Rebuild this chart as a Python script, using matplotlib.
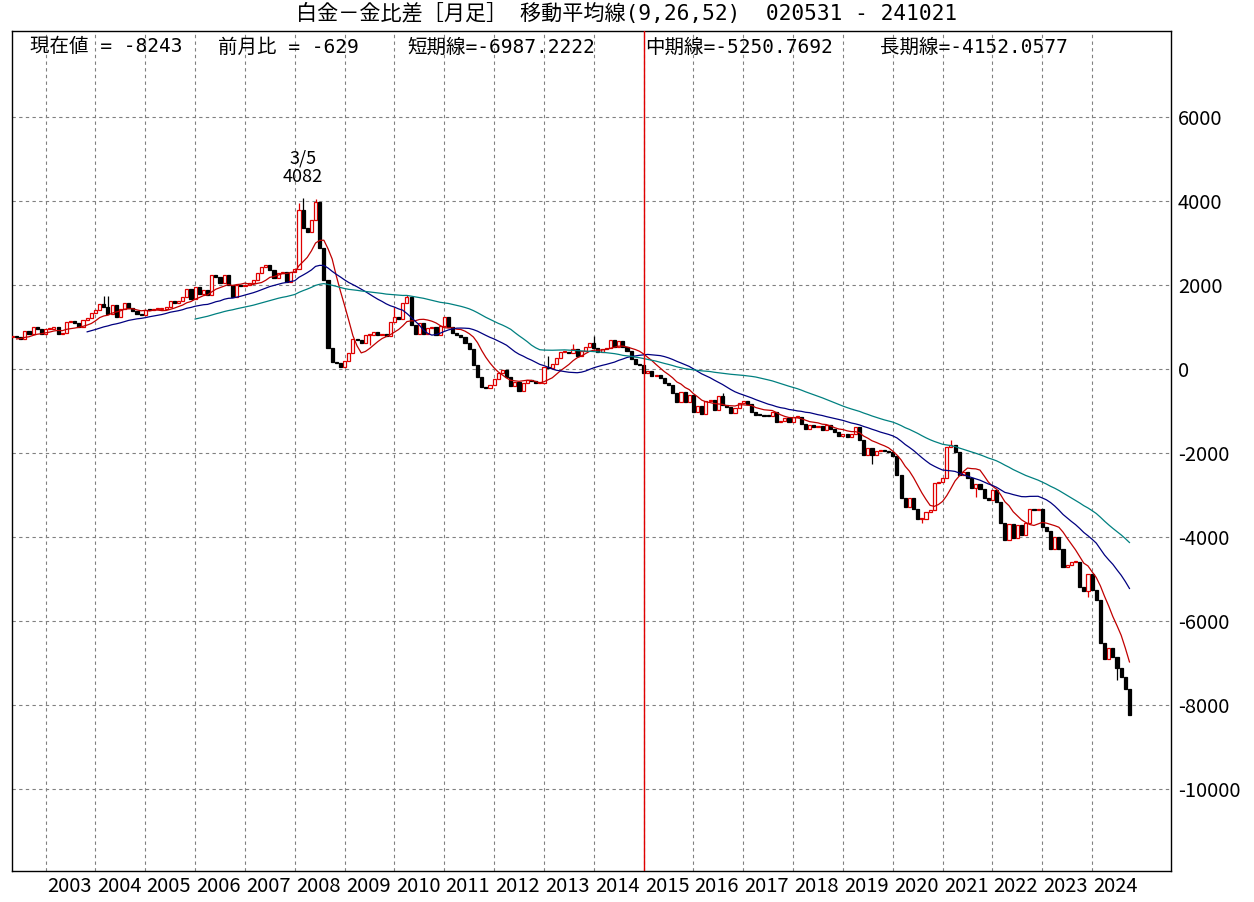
import matplotlib
matplotlib.use("Agg")
import matplotlib.pyplot as plt
import numpy as np
import pandas as pd

plt.rcParams["font.family"] = ["Noto Sans CJK JP", "DejaVu Sans"]
plt.rcParams["axes.unicode_minus"] = False

# =========================================================
# 月足終値 (円/g, 白金 - 金)
# 2001/10〜2002/04 は移動平均の計算用 (表示範囲外)
# =========================================================
close_pre = [640, 660, 700, 690, 720, 740, 760]
close_2002 = [786, 770, 720, 912, 833, 992, 964, 845]  # 5月〜12月
close_2003 = [952, 952, 1000, 833, 860, 1119, 1143, 1090, 1008, 1167, 1214, 1341]
close_2004 = [1400, 1548, 1476, 1310, 1524, 1250, 1421, 1564, 1445, 1381, 1310, 1290]
close_2005 = [1405, 1400, 1420, 1436, 1440, 1484, 1619, 1579, 1627, 1722, 1897, 1675]
close_2006 = [1945, 1786, 1890, 1770, 2238, 2200, 2055, 2238, 2000, 1722, 2000, 1976]
close_2007 = [2000, 2040, 2119, 2278, 2421, 2476, 2357, 2159, 2294, 2310, 2080, 2317]
close_2008 = [2373, 3786, 3349, 3270, 3548, 3984, 2873, 2119, 492, 175, 150, 60]
close_2009 = [200, 373, 706, 690, 627, 802, 802, 889, 810, 841, 786, 1127]
close_2010 = [1246, 1183, 1579, 1722, 1048, 833, 1103, 833, 968, 1000, 810, 1024]
close_2011 = [1246, 1008, 849, 810, 770, 611, 468, 95, -183, -421, -460, -381]
close_2012 = [-246, -103, -24, -183, -405, -300, -516, -341, -262, -278, -341, -325]
close_2013 = [56, 16, 127, 254, 413, 413, 373, 468, 310, 437, 516, 627]
close_2014 = [492, 413, 468, 500, 690, 532, 675, 532, 437, 230, 130, 100]
close_2015 = [-87, -40, -167, -150, -222, -341, -389, -579, -778, -540, -780, -620]
close_2016 = [-1016, -881, -1071, -754, -740, -968, -643, -857, -897, -1040, -937, -817]
close_2017 = [-754, -833, -1016, -1095, -1103, -1119, -1127, -1016, -1254, -1230, -1175, -1254]
close_2018 = [-1135, -1135, -1310, -1437, -1333, -1389, -1357, -1453, -1333, -1437, -1500, -1600]
close_2019 = [-1550, -1611, -1548, -1373, -1690, -2048, -1889, -2048, -1944, -1944, -1960, -1984]
close_2020 = [-2071, -2524, -3079, -3278, -3079, -3341, -3579, -3579, -3397, -3357, -2722, -2683]
close_2021 = [-2603, -1849, -1809, -1968, -2524, -2444, -2603, -2841, -2738, -2865, -3079, -3119]
close_2022 = [-2881, -3159, -3675, -4071, -3690, -4032, -3714, -3950, -3675, -3341, -3357, -3341]
close_2023 = [-3750, -3849, -4294, -3992, -4294, -4706, -4667, -4587, -4587, -5183, -5278, -4881]
close_2024 = [-5262, -5500, -6516, -6913, -6651, -6850, -7127, -7341, -7614, -8243]  # 1月〜10月

# 目立つヒゲ (表示月のインデックス: 0 = 2002/05)
high_idx = [22, 23, 69, 70, 73, 92, 95, 129, 135, 140, 171, 226]
high_val = [1738, 1738, 3948, 4082, 4060, 1484, 1770, 310, 595, 786, -564, -1690]
low_idx = [86, 207, 219, 232, 259, 266]
low_val = [571, -2270, -3675, -3040, -5437, -7405]

years = list(range(2003, 2025))
y_ticks = [6000, 4000, 2000, 0, -2000, -4000, -6000, -8000, -10000]

title = "白金－金比差［月足］ 移動平均線(9,26,52)  020531 - 241021"
header = [
    (30, "現在値 = -8243"),
    (218, "前月比 = -629"),
    (407, "短期線=-6987.2222"),
    (645, "中期線=-5250.7692"),
    (880, "長期線=-4152.0577"),
]

RED = "#E00000"
MA_COLORS = {9: "#C00000", 26: "#000080", 52: "#008080"}
GRID = "#808080"
MONO = ["DejaVu Sans Mono", "Noto Sans CJK JP"]

# =========================================================
# データ整形
# =========================================================
closes = np.array(
    close_pre + close_2002 + close_2003 + close_2004 + close_2005 + close_2006
    + close_2007 + close_2008 + close_2009 + close_2010 + close_2011 + close_2012
    + close_2013 + close_2014 + close_2015 + close_2016 + close_2017 + close_2018
    + close_2019 + close_2020 + close_2021 + close_2022 + close_2023 + close_2024,
    dtype=float,
)
n_pre = len(close_pre)
x_all = np.arange(len(closes)) - n_pre
series = pd.Series(closes)

c = closes[n_pre:]
o = closes[n_pre - 1:-1]
x = np.arange(len(c))
hi = np.maximum(o, c)
lo = np.minimum(o, c)
hi[high_idx] = np.maximum(hi[high_idx], high_val)
lo[low_idx] = np.minimum(lo[low_idx], low_val)

# =========================================================
# FIGURA
# =========================================================
W, H = 1254, 902
fig = plt.figure(figsize=(W / 100, H / 100), dpi=100)
ax = fig.add_axes([12 / W, 1 - 871 / H, (1171 - 12) / W, (871 - 31) / H])
ax.set_xlim(-0.1, 279.0)
ax.set_ylim(-11950, 8050)

for v in y_ticks:
    ax.axhline(v, color=GRID, lw=0.8, ls=(0, (3, 3)), zorder=1)
for yr in years:
    gx = 8 + (yr - 2003) * 12
    ax.axvline(gx, color=GRID, lw=0.8, ls=(0, (3, 3)), zorder=1)
    ax.text(gx + 0.3, -0.006, str(yr), transform=ax.get_xaxis_transform(),
            ha="left", va="top", fontsize=14.5)

# candele
up = c >= o
dn = ~up
body = np.maximum(np.abs(c - o), 25)
ax.vlines(x[up], lo[up], hi[up], color=RED, lw=0.9, zorder=3)
ax.vlines(x[dn], lo[dn], hi[dn], color="black", lw=0.9, zorder=3)
ax.bar(x[up], body[up], bottom=np.minimum(o, c)[up], width=0.75,
       facecolor="white", edgecolor=RED, lw=0.9, zorder=4)
ax.bar(x[dn], body[dn], bottom=np.minimum(o, c)[dn], width=0.75,
       facecolor="black", edgecolor="black", lw=0.9, zorder=4)

# medie mobili
for n, col in MA_COLORS.items():
    ma = series.rolling(n).mean()
    ax.plot(x_all, ma, color=col, lw=0.9, zorder=5)

ax.axvline(152, color=RED, lw=1.0, zorder=6)

# massimo
imax = int(np.argmax(hi))
ax.annotate(f"3/5\n{int(hi[imax])}", (imax, hi[imax]), xytext=(0, 12),
            textcoords="offset pixels", ha="center", va="bottom",
            fontsize=13, linespacing=1.0)

ax.yaxis.tick_right()
ax.set_yticks(y_ticks)
ax.set_yticklabels([str(v) for v in y_ticks], fontsize=14.5, ha="left")
ax.tick_params(axis="y", length=0, pad=5)
ax.set_xticks([])
for sp in ax.spines.values():
    sp.set_linewidth(1.0)

fig.text(627 / W, 1 - 13 / H, title, ha="center", va="center",
         fontsize=15.2, family=MONO)
for px, txt in header:
    fig.text(px / W, 1 - 47 / H, txt, ha="left", va="center",
             fontsize=14, family=MONO)

fig.savefig("out.png", dpi=100)
